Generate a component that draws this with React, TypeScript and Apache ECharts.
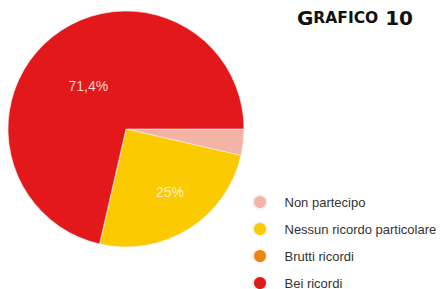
import React, { useEffect, useRef } from "react";
import * as echarts from "echarts";

const categories = ["Non partecipo", "Nessun ricordo particolare", "Brutti ricordi", "Bei ricordi"];
const values = [3.6, 25, 0, 71.4];
const labels = ["", "25%", "", "71,4%"];
const colors = ["#f3b3a5", "#fcca00", "#ee8513", "#e3181b"];

export default function App() {
  const ref = useRef<HTMLDivElement>(null);
  useEffect(() => {
    const chart = echarts.init(ref.current!, null, { renderer: "svg" });
    chart.setOption({
      animation: false,
      title: {
        text: "{a|G}{b|RAFICO}{a| 10}",
        right: 22,
        top: 3,
        textStyle: {
          rich: {
            a: { fontFamily: "DejaVu Sans", fontWeight: "bold", fontSize: 20, color: "#111" },
            b: { fontFamily: "DejaVu Sans", fontWeight: "bold", fontSize: 15.5, color: "#111" },
          },
        },
      },
      legend: {
        orient: "vertical",
        left: 252,
        top: 194,
        height: 120,
        padding: 0,
        icon: "circle",
        itemWidth: 15,
        itemHeight: 14,
        itemGap: 11,
        data: categories,
        textStyle: {
          fontFamily: "Liberation Sans",
          fontSize: 13,
          color: "#333",
          padding: [0, 0, 0, 12],
        },
      },
      series: [
        {
          type: "pie",
          center: [126, 129],
          radius: 118,
          startAngle: 0,
          clockwise: true,
          avoidLabelOverlap: false,
          itemStyle: { borderColor: "#f4f4f4", borderWidth: 0.6 },
          label: {
            position: "inside",
            fontFamily: "Liberation Sans",
            fontSize: 14,
            formatter: (p: any) => labels[p.dataIndex],
          },
          labelLine: { show: false },
          emphasis: { disabled: true },
          data: categories.map((name, i) => ({
            name,
            value: values[i],
            itemStyle: { color: colors[i] },
            label:
              i === 1
                ? { offset: [11, 10], color: "#fff1c4" }
                : { offset: [1, 6], color: "#f9d2ca" },
          })),
        },
      ],
    });
    return () => chart.dispose();
  }, []);
  return (
    <div
      ref={ref}
      style={{ position: "fixed", left: 0, top: 0, width: 440, height: 289, background: "#fff" }}
    />
  );
}
